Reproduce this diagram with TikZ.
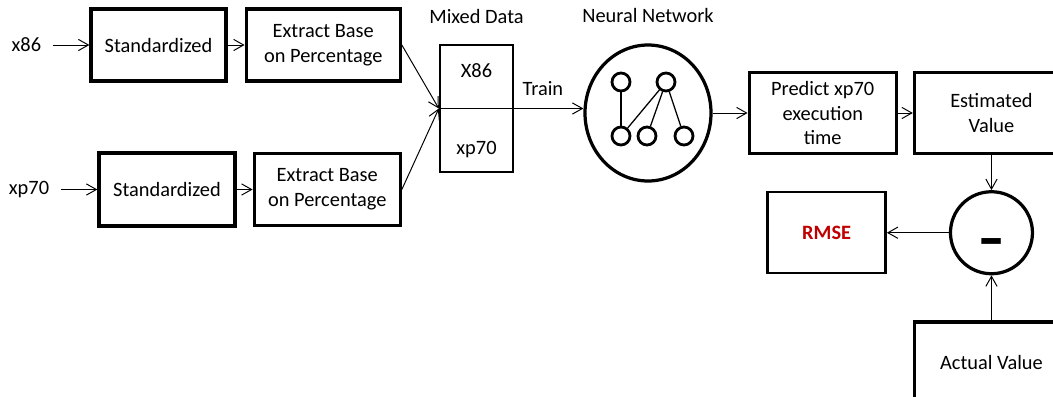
\documentclass[tikz,border=0pt]{standalone}
\usepackage{fontspec}
\setmainfont{Carlito}
\usepackage{xcolor}
\usepackage{graphicx}
\usepackage{tikz}
\usetikzlibrary{positioning,arrows.meta,shapes.geometric}
\definecolor{rmsered}{HTML}{C00000}
\newcommand{\diagfont}{\fontsize{14.5}{17.5}\selectfont}

\begin{document}
\begin{tikzpicture}[
  box/.style={draw=black,line width=2.3pt,minimum height=18mm,inner sep=1pt,align=center,font=\diagfont},
  thinbox/.style={line width=1.7pt},
  lbl/.style={font=\diagfont,inner xsep=3mm,inner ysep=1mm},
  ring/.style={draw=black,line width=2.3pt,circle,inner sep=0pt},
  netring/.style={draw=black,line width=2.3pt,ellipse,inner sep=0pt},
  neuron/.style={draw=black,line width=2pt,circle,minimum size=4.5mm,inner sep=0pt},
  link/.style={line width=0.9pt},
  arr/.style={-{Straight Barb[length=2.5mm,width=2.8mm]},line width=0.7pt}
]
\useasboundingbox (0,0) rectangle (263.25mm,-99mm);
\clip (0,0) rectangle (263.25mm,-99mm);

% input chains
\node[box,minimum width=33.75mm] (std1) at (39.625mm,-11.25mm) {Standardized};
\node[box,minimum width=38.5mm,right=4.25mm of std1] (ext1) {Extract Base\\on Percentage};
\node[box,minimum width=34mm,minimum height=18.25mm] (std2) at (41.75mm,-47.375mm) {Standardized};
\node[box,minimum width=36.5mm,right=4mm of std2] (ext2) {Extract Base\\on Percentage};
\node[lbl,left=9mm of std1] (x86) {x86};
\node[lbl,left=9mm of std2] (xp70) {xp70};

% mixed data and network
\node[box,thinbox,minimum width=18.25mm,minimum height=31.75mm] (mixed) at (119.125mm,-27.125mm) {};
\node[lbl] (mx86) at ([yshift=-6.75mm]mixed.north) {X86};
\node[lbl] (mxp70) at ([yshift=6mm]mixed.south) {xp70};
\node[lbl,above=4mm of mixed] (mixlbl) {Mixed Data};
\node[netring,minimum width=31.5mm,minimum height=34mm] (nn) at (162mm,-28.25mm) {};
\node[lbl,above=4mm of nn] (nnlbl) {Neural Network};
\node[neuron] (n1) at ([shift={(-6.75mm,7.75mm)}]nn.center) {};
\node[neuron] (n2) at ([shift={(4.5mm,7.75mm)}]nn.center) {};
\node[neuron] (n3) at ([shift={(-6.75mm,-5.75mm)}]nn.center) {};
\node[neuron] (n4) at ([shift={(-0.25mm,-5.75mm)}]nn.center) {};
\node[neuron] (n5) at ([shift={(9mm,-5.75mm)}]nn.center) {};

% prediction and error
\node[box,minimum width=36.75mm,minimum height=20.25mm,right=8.75mm of nn] (pred) {Predict xp70\\execution\\time};
\node[box,minimum width=38.5mm,minimum height=20.25mm,right=3.75mm of pred] (est) {Estimated\\Value};
\node[ring,minimum size=20.5mm,below=8.75mm of est] (minus) {};
\node[font=\fontsize{40}{40}\selectfont\bfseries,anchor=base,inner sep=0pt] (minussign) at ([yshift=-6.1mm]minus.center) {\scalebox{1.4}[1]{-}};
\node[box,thinbox,minimum width=29.5mm,minimum height=20.25mm,left=15.5mm of minus] (rmse) {\color{rmsered}\bfseries RMSE};
\node[box,minimum width=38.5mm,minimum height=20.5mm,below=11.25mm of minus] (actual) {Actual Value};

\draw[link] (n1) -- (n3);
\draw[link] (n2) -- (n3);
\draw[link] (n2) -- (n4);
\draw[link] (n2) -- (n5);

\draw[arr] (x86) -- (std1);
\draw[arr] (std1) -- (ext1);
\draw[arr] (xp70) -- (std2);
\draw[arr] (std2) -- (ext2);
\draw[arr] (ext1.east) -- (mixed.west);
\draw[arr] (ext2.east) -- (mixed.west);
\draw[arr] (mixed.west) -- node[lbl,pos=0.72,above=2mm] (train) {Train} (mixed.west -| nn.west);
\draw[arr] (nn) -- (pred);
\draw[arr] (pred) -- (est);
\draw[arr] (est) -- (minus);
\draw[arr] (minus) -- (rmse);
\draw[arr] (actual) -- (minus);
\end{tikzpicture}
\end{document}
